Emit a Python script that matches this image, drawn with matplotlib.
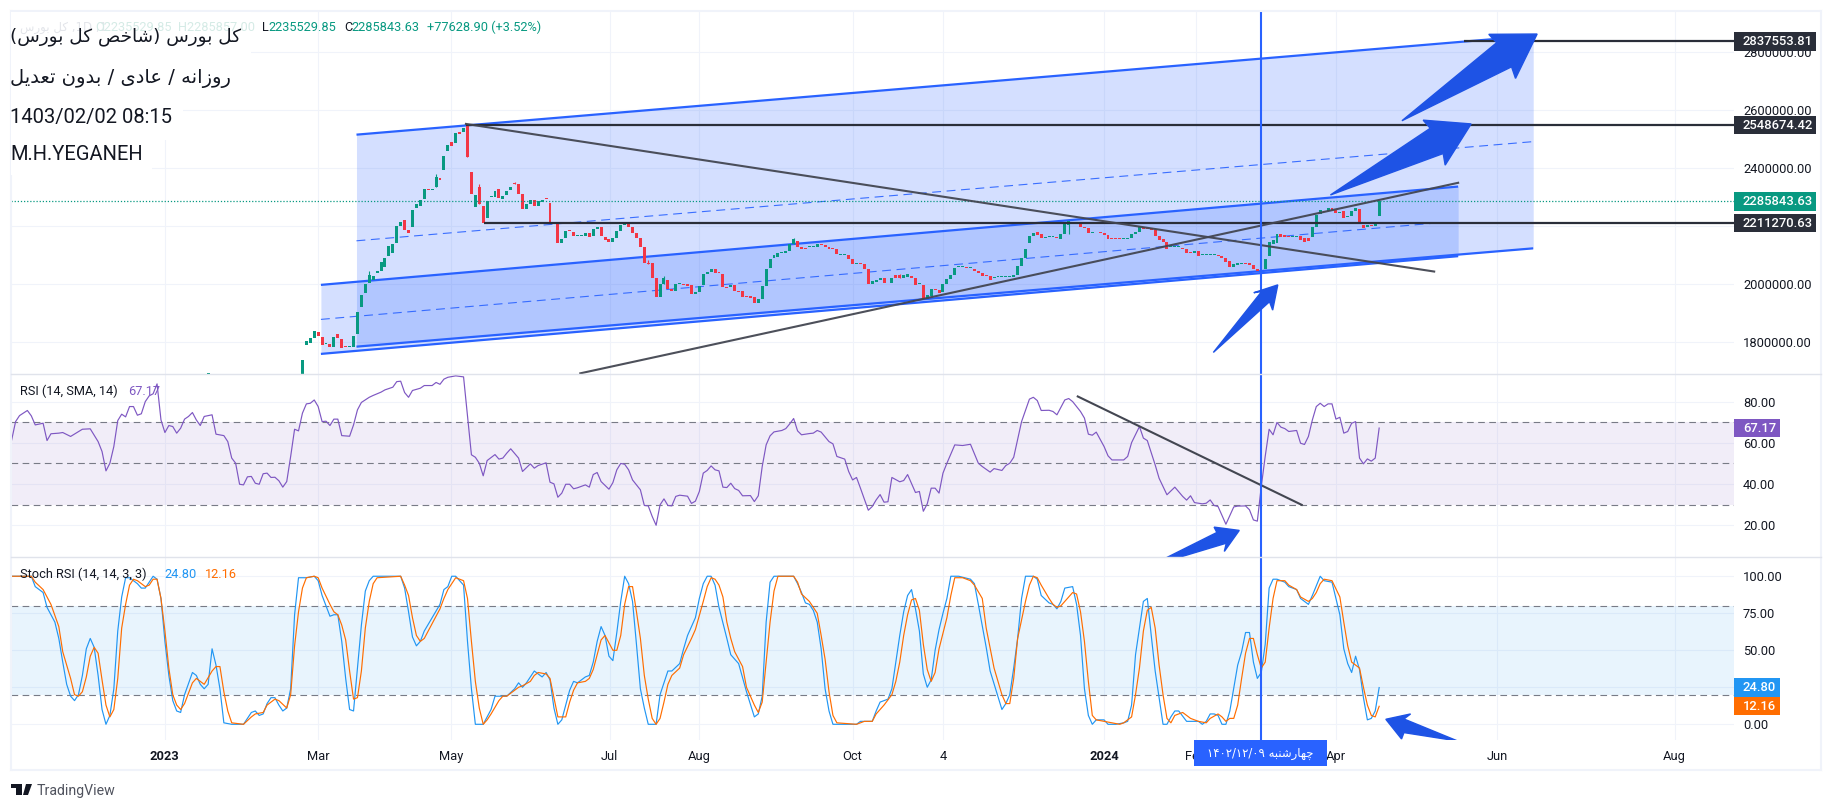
import re
import matplotlib
matplotlib.use('Agg')
import matplotlib.pyplot as plt
import matplotlib.transforms as mtrans
from matplotlib.lines import Line2D
from matplotlib.patches import Rectangle, Polygon
import numpy as np

plt.rcParams['font.family'] = ['Roboto', 'DejaVu Sans']

# daily candles, thousands of index points, bar 0 = first candle of the rally
opens_k = [1791,1797,1814,1836,1817,1794,1794,1785,1828,1810,1785,1783,1785,1829,1923,1969,2003,2015,2038,2047,
 2061,2099,2109,2141,2202,2222,2187,2199,2264,2270,2294,2330,2325,2337,2368,2394,2461,2489,2488,2526,
 2526,2549,2386,2265,2334,2270,2230,2300,2302,2330,2294,2308,2325,2350,2346,2311,2261,2277,2289,2271,
 2285,2295,2281,2216,2212,2144,2158,2188,2181,2167,2168,2167,2176,2167,2192,2196,2162,2157,2145,2158,
 2185,2205,2207,2196,2176,2159,2130,2075,2072,2021,1957,2001,2015,1983,1978,2001,2001,2001,1998,1968,
 1975,1997,2036,2044,2052,2044,2036,1990,1990,1999,1978,1976,1957,1961,1957,1937,1949,1994,2055,2090,
 2095,2107,2107,2116,2139,2151,2130,2125,2128,2128,2128,2138,2136,2130,2125,2121,2102,2102,2100,2086,
 2069,2072,2069,2053,2001,2007,2015,2021,2003,2003,2032,2031,2023,2024,2030,2023,2002,1997,1948,1961,
 1985,1980,1972,2001,2018,2032,2060,2059,2059,2055,2054,2046,2038,2030,2029,2023,2024,2024,2024,2026,
 2024,2033,2063,2090,2144,2167,2179,2172,2161,2163,2163,2164,2157,2174,2205,2216,2213,2208,2196,2193,
 2178,2179,2180,2176,2170,2157,2156,2156,2156,2156,2159,2172,2182,2199,2193,2193,2187,2167,2157,2147,
 2128,2128,2128,2124,2121,2109,2109,2114,2100,2100,2100,2101,2099,2098,2090,2080,2061,2068,2070,2072,
 2072,2065,2054,2048,2052,2099,2139,2141,2172,2169,2167,2163,2164,2167,2158,2158,2162,2199,2241,2254,
 2253,2262,2256,2247,2254,2233,2235,2254,2258,2203,2199,2204,2201,2235.53]
closes_k = [1806,1814,1838,1823,1791,1799,1785,1817,1816,1782,1784,1785,1822,1906,1963,2001,2032,2029,2046,2078,
 2090,2132,2138,2202,2216,2187,2176,2256,2277,2291,2330,2325,2330,2371,2360,2442,2479,2478,2520,2517,
 2538,2440,2311,2308,2277,2212,2286,2302,2320,2296,2304,2323,2334,2346,2311,2258,2276,2289,2271,2287,
 2292,2293,2216,2208,2144,2156,2185,2185,2167,2169,2170,2176,2162,2191,2196,2167,2153,2145,2158,2185,
 2205,2207,2196,2176,2159,2130,2072,2071,2021,1957,2001,2021,1983,1978,2001,2003,1998,1995,1968,1975,
 1994,2036,2044,2052,2038,2038,1990,1986,1999,1978,1974,1957,1955,1952,1937,1949,1994,2053,2086,2101,
 2108,2110,2116,2139,2155,2130,2123,2123,2129,2129,2139,2136,2130,2121,2121,2103,2103,2103,2086,2069,
 2071,2069,2053,2001,2011,2015,2021,2003,2006,2022,2023,2023,2033,2034,2023,1998,2003,1948,1963,1984,
 1980,1969,2001,2018,2032,2057,2061,2060,2056,2056,2045,2038,2029,2029,2016,2024,2025,2025,2025,2027,
 2033,2063,2090,2121,2167,2178,2170,2161,2162,2164,2164,2161,2172,2213,2217,2213,2208,2199,2193,2178,
 2179,2182,2176,2170,2157,2155,2155,2155,2157,2159,2172,2182,2199,2192,2190,2187,2168,2153,2147,2121,
 2129,2129,2129,2121,2109,2108,2114,2099,2101,2101,2101,2102,2098,2090,2078,2061,2070,2075,2071,2070,
 2067,2052,2047,2049,2086,2147,2153,2172,2164,2163,2162,2164,2165,2153,2147,2149,2196,2239,2255,2250,
 2262,2256,2245,2250,2230,2234,2254,2262,2210,2194,2204,2200,2210,2285.84]
early_bars = [-25, -1]
early_opens_k = [1680, 1680]
early_closes_k = [1694, 1739]
wick_bars = [16, 33, 41, 44, 53, 87, 91, 124, 151, 194]
wick_highs_k = [2046, 2380, 2553, 2347, 2354, 2084, 2029, 2158, 2035, 2220]
wick_lows_k = [2015, 2337, 2440, 2277, 2346, 2071, 2001, 2139, 2023, 2174]

levels = [2837553.81, 2548674.42, 2211270.63]
level_starts = [294.7, 40.6, 45.2]
last_price = 2285843.63

rsi_bars = [-75,-74,-73,-71,-70,-69,-67,-66,-65,-63,-62,-60,-57,-55,-53,-52,-51,-50,-49,-48,-47,-46,-45,-44,-43,-42,-41,-40,-39,-38,
 -37,-36,-35,-34,-33,-32,-31,-30,-29,-28,-27,-26,-24,-23,-21,-20,-19,-18,-17,-16,-15,-14,-13,-12,-11,-10,-9,-8,-7,-6,
 -5,-4,-3,-2,-1,0,1,2,3,4,5,6,7,8,9,11,12,13,14,16,17,19,20,22,23,24,25,26,27,29,30,32,33,34,35,36,38,40,
 42,43,44,45,46,48,49,50,51,52,54,55,57,58,59,61,62,63,64,65,66,67,68,69,71,72,73,74,75,77,78,79,80,
 81,82,83,85,86,87,88,89,90,91,92,93,94,95,97,98,99,100,101,102,103,104,105,106,107,108,109,110,111,113,114,115,116,117,118,119,
 121,122,123,124,125,126,128,129,130,131,133,134,135,137,138,139,140,141,143,144,145,146,147,148,149,151,152,153,155,156,157,158,159,160,161,162,163,
 165,167,169,171,172,174,175,177,178,179,180,182,184,185,186,187,189,190,191,193,194,195,197,198,199,200,201,203,204,205,208,209,210,212,213,214,216,217,
 219,221,223,224,225,226,228,229,230,231,232,234,236,237,
 239,240,241,242,243,244,245,246,247,248,249,250,252,253,254,255,256,257,258,259,260,261,262,263,264,265,266,267,268,269,270,271,272,273]
rsi_values = [61.4,70.3,73.2,75.7,73.1,68.7,69.5,61.1,64.4,64.7,65.0,63.1,66.6,66.8,60.6,55.8,46.4,50.1,58.2,70.8,73.9,72.6,77.6,77.6,73.4,74.1,80,82.8,83.8,88.6,
 71.1,65,68.4,67.9,64.7,67.1,71.5,72.8,74.7,71.1,68.4,72.8,73.6,64.2,63.5,60.6,52.6,50.1,39.9,39.6,43.5,43.7,40.4,39.9,45,45.3,43.2,43.3,41.6,38.5,
 41.2,53.4,66.6,65.8,74.4,78.9,79.2,80.8,77.6,70.3,70.5,68.4,71.5,71.5,63.5,63.2,68.7,76,79.6,82.1,83,84.6,85.7,87,89.7,89.9,84.4,82.1,85.4,86.5,87.8,87.8,89.3,88.4,90.9,91.8,92.5,92,
 54.2,53,50.1,44,51.4,54.3,52.1,52.6,55,57.1,52.6,46.1,49.8,47.7,49,50.3,40.9,40.1,33.6,35.6,39.9,39.9,37.7,38.2,39.6,38.5,44.6,45.6,41.2,37.5,40.7,46.9,50,
 49.6,46.9,42,37.2,29.6,29.4,24.3,20,29.9,32.8,29.6,29.4,34,34.6,34.1,30.6,31.7,36.4,45.3,46.6,48.8,46.9,46.4,38.5,38.3,40.4,37.8,36.9,34.3,34.4,31.5,34.3,48.5,59,63.4,65.3,
 66,66.9,69.2,71.8,65.8,63.9,64.5,64.7,66,65.2,60.6,59.5,53.4,52.1,46.1,42,43.2,38,27.3,29.1,32.3,34.9,31.2,31.4,43.2,41.1,41.7,44.6,35.9,36.4,26.8,30.4,38,38,35.6,45.3,50.1,
 59,58.7,59.3,50.1,48.5,45.8,47.5,46.6,49,50.1,53,70.3,81.2,82.1,80.5,75.7,75.8,75.2,73.6,80.8,81.5,80,75.2,72,64.2,63.7,65.2,58.2,53.7,51.7,51.7,53.4,60.1,67.9,62.3,61.1,49.3,42.8,
 34.8,38.5,34,32.2,34.3,31,30.4,30.7,32.3,29.6,29.1,20.5,28.9,29.3,
 29.4,27.5,22.6,22,38.8,53.4,66.6,63.9,69.9,67.6,66.9,65.5,66,59.8,59.2,63.1,71.1,77.6,79.2,77.6,78.9,78.9,71.5,72.4,64.7,65.5,69.5,70.3,52.6,49.8,52.2,51.1,52.6,67.17]

stoch_k_bars = [-75,-70,-69,-67,-66,-64,-63,-62,-61,-60,-59,-58,-57,-56,-55,-54,-53,-52,-51,-50,-49,-48,-47,-46,-45,-43,-42,-41,-40,-39,-38,-37,-36,-35,-34,-33,-32,-31,-29,-28,-27,-26,-25,-24,-23,-22,-21,-19,-16,-15,-14,-13,-12,-11,-10,-9,-8,-7,-6,-5,-4,-3,-2,0,2,3,4,6,7,8,9,10,11,12,13,14,15,16,17,24,25,26,27,28,29,30,32,34,35,36,37,38,39,40,41,42,43,45,47,48,50,51,53,54,55,56,58,60,61,62,63,64,65,67,68,69,71,72,73,74,75,76,77,78,79,80,
 81,82,83,84,85,86,87,89,90,92,93,95,96,97,99,100,101,102,103,104,105,107,108,110,112,114,115,116,117,118,119,124,125,126,127,128,129,130,131,132,133,134,140,141,144,145,146,148,149,150,151,152,153,154,155,156,157,158,159,160,161,162,163,164,166,169,170,171,173,174,177,178,179,180,181,182,183,185,186,187,189,190,191,192,193,195,196,197,198,199,200,201,203,204,206,208,209,210,211,213,214,215,216,218,219,220,221,222,224,226,227,228,229,230,231,232,233,234,235,
 237,238,239,240,241,242,243,244,245,246,247,249,250,252,253,255,256,258,259,261,262,263,264,265,266,267,268,269,270,271,272,273]
stoch_k_values = [100,100,93,89,79,69,58,42,27,19,16,20,33,51,58,52,33,10,0,6,24,63,86,99,99,95,92,92,96,100,98,85,56,33,16,9,8,20,35,33,27,24,27,51,40,24,1,0,0,4,8,9,6,7,14,18,18,13,9,11,24,74,99,99,100,97,87,73,74,74,56,31,10,9,38,67,90,97,100,100,92,76,59,53,56,63,72,81,91,93,100,100,97,94,56,24,0,0,10,19,19,19,24,28,25,28,36,32,35,30,11,0,3,23,29,28,32,33,42,56,66,60,46,43,62,83,
 100,95,83,54,24,11,0,0,20,36,36,41,51,60,72,85,95,100,100,94,79,58,47,41,22,5,7,19,69,96,100,100,95,89,82,81,77,69,51,24,9,0,0,2,2,9,15,17,24,42,60,76,87,91,78,63,34,25,30,50,64,75,85,100,100,98,95,81,52,36,10,14,20,38,58,85,100,100,98,87,82,81,78,83,92,93,81,60,24,6,0,3,3,0,0,1,2,13,47,83,85,60,36,0,0,5,9,9,2,2,2,0,2,7,7,6,0,0,9,
 40,49,62,62,42,31,35,54,92,98,98,96,93,91,85,81,87,100,97,96,85,74,51,41,35,46,37,18,3,4,9,24.8]

stoch_d_bars = [-75,-70,-69,-67,-65,-63,-62,-60,-59,-58,-57,-56,-55,-54,-53,-52,-51,-50,-49,-48,-47,-46,-45,-44,-43,-42,-41,-40,-39,-38,-37,-36,-35,-34,-33,-32,-31,-30,-29,-28,-27,-26,-24,-23,-22,-21,-20,-19,-16,-14,-13,-11,-10,-8,-7,-5,-4,-3,-2,-1,0,2,3,4,6,7,8,9,10,11,12,13,14,15,16,17,18,24,25,26,27,28,29,30,32,34,35,36,37,38,40,41,42,43,44,45,46,47,49,50,51,53,54,55,57,58,59,61,62,63,64,66,67,68,69,71,72,73,74,75,76,77,78,79,80,
 81,82,83,84,85,86,87,88,89,90,91,92,93,95,96,98,99,101,102,103,104,105,106,107,108,109,111,112,114,115,116,117,118,119,120,124,125,126,128,129,130,131,132,133,134,135,140,142,144,145,147,149,150,151,152,153,154,155,156,157,158,159,160,161,163,164,165,167,169,170,172,173,175,177,178,179,180,181,183,184,185,186,187,189,190,191,192,195,196,197,198,199,200,201,203,205,207,208,210,211,212,213,214,215,216,217,218,219,220,221,223,225,227,229,230,232,233,234,235,236,
 237,238,239,240,241,242,243,244,245,246,247,249,250,252,253,255,256,257,258,259,261,263,264,265,266,267,268,269,270,271,272,273]
stoch_d_values = [100,100,96,91,81,66,49,31,20,19,22,32,46,52,48,30,13,5,10,31,65,81,94,98,97,95,93,94,98,98,85,63,38,20,13,10,14,21,28,31,29,27,36,39,39,22,9,1,0,5,7,8,13,17,16,11,20,53,76,92,99,100,99,92,81,76,74,67,57,36,17,18,36,65,83,95,99,100,94,87,72,60,56,58,68,78,85,91,95,99,97,85,56,29,11,0,3,7,16,19,19,23,25,26,29,33,35,34,31,18,5,5,15,23,28,29,31,37,47,57,60,55,50,50,60,
 81,93,93,76,58,33,17,4,0,4,15,27,33,38,47,58,64,83,93,99,98,94,86,69,58,49,39,25,13,8,15,42,69,90,100,100,96,88,83,79,75,60,44,22,6,1,0,2,2,7,13,20,29,42,60,74,84,85,77,54,37,29,35,51,72,87,99,99,97,94,85,65,38,20,14,14,31,58,83,94,100,99,94,85,81,79,80,89,88,76,56,29,6,3,2,1,0,1,5,20,38,63,77,79,65,40,20,4,1,6,8,4,2,1,4,7,5,2,4,4,
 13,31,48,58,58,47,38,42,65,85,97,97,94,91,86,83,85,89,95,98,97,86,69,53,42,40,38,25,13,6,5,12.16]

tick_bars = [-36.1, 3, 36.9, 77.2, 100, 139, 162.1, 203.1, 226.3, 262.1, 303.1, 348.2]
tick_labels = ['2023', 'Mar', 'May', 'Jul', 'Aug', 'Oct', '4', '2024', 'Feb', 'Apr', 'Jun', 'Aug']
price_ticks = [1800000, 2000000, 2200000, 2400000, 2600000, 2800000]
rsi_ticks = [20, 40, 60, 80]
stoch_ticks = [0, 25, 50, 75, 100]

GREEN = '#089981'
RED = '#f23645'
BLUE = '#2962ff'
ARROW = '#1e53e5'
DARK = '#2a2e39'
TREND = '#434651'
GRID = '#f0f3fa'
SEP = '#e0e3eb'
PURPLE = '#7e57c2'
TXT = '#131722'
W, H = 1833, 810
PLOT_L, PLOT_R = 11.5, 1734

# persian text has to be shaped by hand, matplotlib does no joining or bidi
FORMS = {'ا': 'ﺍﺎ', 'ب': 'ﺏﺐﺑﺒ', 'ت': 'ﺕﺖﺗﺘ', 'ج': 'ﺝﺞﺟﺠ', 'چ': 'ﭺﭻﭼﭽ',
         'خ': 'ﺥﺦﺧﺨ', 'د': 'ﺩﺪ', 'ر': 'ﺭﺮ', 'ز': 'ﺯﺰ', 'س': 'ﺱﺲﺳﺴ',
         'ش': 'ﺵﺶﺷﺸ', 'ص': 'ﺹﺺﺻﺼ', 'ع': 'ﻉﻊﻋﻌ', 'ل': 'ﻝﻞﻟﻠ', 'ن': 'ﻥﻦﻧﻨ',
         'ه': 'ﻩﻪﻫﻬ', 'و': 'ﻭﻮ', 'ی': 'ﯼﯽﯾﯿ', 'ک': 'ﮎﮏﮐﮑ'}


def fa(s):
    out = ''
    for i, c in enumerate(s):
        if c not in FORMS:
            out += c
            continue
        f = FORMS[c]
        prev_j = i > 0 and s[i - 1] in FORMS and len(FORMS[s[i - 1]]) == 4
        next_j = i + 1 < len(s) and s[i + 1] in FORMS and len(f) == 4
        if prev_j and next_j:
            out += f[3]
        elif prev_j:
            out += f[1]
        elif next_j:
            out += f[2]
        else:
            out += f[0]
    out = out[::-1].translate(str.maketrans('()', ')('))
    return re.sub('[۰-۹/]{2,}', lambda m: m.group(0)[::-1], out)


def pane(top, bottom):
    return fig.add_axes([PLOT_L / W, 1 - bottom / H, (PLOT_R - PLOT_L) / W, (bottom - top) / H])


def fx(px):
    return px / W


def fy(py):
    return 1 - py / H


def price_label(ax, value, text, color, height, width=82.5):
    tr = mtrans.blended_transform_factory(ax.transAxes, ax.transData)
    fr = 1 / (PLOT_R - PLOT_L)
    ax.add_patch(Rectangle((1, value - height / 2), width * fr, height, transform=tr, color=color,
                           lw=0, clip_on=False, zorder=10))
    ax.text(1 + 9 * fr, value, text, transform=tr, color='white', fontsize=9.4, fontweight='medium',
            va='center', ha='left', clip_on=False, zorder=11)


fig = plt.figure(figsize=(W / 100, H / 100), dpi=100, facecolor='white')
ax1 = pane(11, 374)
ax2 = pane(374, 557)
ax3 = pane(557, 740)

for ax in (ax1, ax2, ax3):
    for s in ax.spines.values():
        s.set_visible(False)
    ax.set_xlim(-75.04, 363.3)
    ax.set_xticks(tick_bars)
    ax.yaxis.tick_right()
    ax.tick_params(axis='y', length=0, pad=6.5, labelsize=9.3, labelcolor=TXT)
    ax.tick_params(axis='x', length=0, labelbottom=False)
    ax.grid(color=GRID, lw=0.8)
    ax.set_axisbelow(True)
    ax.axvline(242.9, color=BLUE, lw=1.5, zorder=6)

# main pane
ax1.set_ylim(1690700, 2942400)
ax1.set_yticks(price_ticks)
# 2200000 sits behind the 2211270.63 label
ax1.set_yticklabels(['' if v == 2200000 else '%.2f' % v for v in price_ticks])

outer_x = [12.75, 312.2]
inner_x = [3.7, 293.1]
ax1.fill_between(outer_x, [1785000, 2124000], [2516000, 2857000], color=BLUE, alpha=0.2, lw=0, zorder=1)
ax1.fill_between(inner_x, [1760000, 2097000], [1998000, 2337000], color=BLUE, alpha=0.2, lw=0, zorder=1)
for xs, ys in ((outer_x, [2516000, 2857000]), (outer_x, [1785000, 2124000]),
               (inner_x, [1998000, 2337000]), (inner_x, [1760000, 2097000])):
    ax1.plot(xs, ys, color=BLUE, lw=1.6, zorder=2, solid_capstyle='butt')
ax1.plot(outer_x, [2150000, 2492000], color=BLUE, lw=0.8, dashes=(8, 5), alpha=0.9, zorder=2)
ax1.plot([3.7, 288], [1879000, 2212000], color=BLUE, lw=0.8, dashes=(8, 5), alpha=0.9, zorder=2)

o = np.array(opens_k, dtype=float) * 1000
c = np.array(closes_k, dtype=float) * 1000
bars = np.arange(len(o))
colors = [GREEN if b >= a else RED for a, b in zip(o, c)]
ax1.vlines(wick_bars, np.array(wick_lows_k) * 1000, np.array(wick_highs_k) * 1000,
           colors=[colors[i] for i in wick_bars], lw=0.8, zorder=3)
ax1.bar(bars, np.maximum(np.abs(c - o), 3000), bottom=np.minimum(o, c), width=0.75, color=colors, lw=0, zorder=3)
eo = np.array(early_opens_k) * 1000
ec = np.array(early_closes_k) * 1000
ax1.bar(early_bars, ec - eo, bottom=eo, width=0.75, color=GREEN, lw=0, zorder=3)

ax1.axhline(last_price, color=GREEN, lw=0.9, ls=(0, (1, 1.5)), zorder=4)
for lv, st in zip(levels, level_starts):
    ax1.plot([st, 363.3], [lv, lv], color=DARK, lw=1.6, zorder=5, solid_capstyle='butt')
ax1.plot([40.6, 287], [2553000, 2044000], color=TREND, lw=1.5, alpha=0.95, zorder=5)
ax1.plot([69.7, 293.1], [1693000, 2350000], color=TREND, lw=1.5, alpha=0.95, zorder=5)

ax1.add_patch(Polygon([(278.8, 2564000), (302.9, 2833000), (300.9, 2862000), (313.2, 2863000),
                       (307.7, 2710000), (306.7, 2750000)], color=ARROW, lw=1, zorder=7))
ax1.add_patch(Polygon([(260.6, 2308000), (286, 2538000), (284.2, 2566000), (296.4, 2553000),
                       (289.8, 2411000), (289.3, 2451000)], color=ARROW, lw=1, zorder=7))
ax1.add_patch(Polygon([(230.8, 1765000), (243.1, 1975000), (241.1, 1971000), (247.2, 1998000),
                       (245.9, 1911000), (245.1, 1940000)], color=ARROW, lw=1, zorder=7))

for lv, txt in zip(levels, ['2837553.81', '2548674.42', '2211270.63']):
    price_label(ax1, lv, txt, DARK, 63000)
price_label(ax1, last_price, '2285843.63', GREEN, 63000)

# RSI pane
ax2.set_ylim(4.6, 93.4)
ax2.set_yticks(rsi_ticks)
ax2.set_yticklabels(['%.2f' % v for v in rsi_ticks])
ax2.axhspan(30, 70, color=PURPLE, alpha=0.1, lw=0, zorder=1)
for v in (30, 50, 70):
    ax2.axhline(v, color='#787b86', lw=0.8, dashes=(6, 4), zorder=2)
ax2.plot(rsi_bars, rsi_values, color=PURPLE, lw=0.85, zorder=3)
ax2.plot([196.3, 253.3], [82.5, 29.9], color=TREND, lw=1.5, zorder=5)
ax2.add_patch(Polygon([(214.4, 0), (231.7, 16.5), (231, 19.1), (237.4, 17.5), (233.6, 7.3), (234.1, 11.3)],
                      color=ARROW, lw=1, zorder=7))
price_label(ax2, 67.17, '67.17', PURPLE, 8.9, width=46.5)

# Stoch RSI pane
ax3.set_ylim(-10.6, 113)
ax3.set_yticks(stoch_ticks)
# 25 sits behind the 24.80 label
ax3.set_yticklabels(['' if v == 25 else '%.2f' % v for v in stoch_ticks])
ax3.axhspan(20, 80, color='#2196f3', alpha=0.1, lw=0, zorder=1)
for v in (20, 80):
    ax3.axhline(v, color='#787b86', lw=0.8, dashes=(6, 4), zorder=2)
ax3.plot(stoch_k_bars, stoch_k_values, color='#2196f3', lw=0.85, zorder=3)
ax3.plot(stoch_d_bars, stoch_d_values, color='#ff6d00', lw=0.85, zorder=4)
ax3.add_patch(Polygon([(274.7, 3.4), (281, 7), (279.3, 3.6), (293, -11.3), (279.3, -5.6), (278.7, -9.9)],
                      color=ARROW, lw=1, zorder=7))
price_label(ax3, 24.8, '24.80', '#2196f3', 12.4, width=46.5)
price_label(ax3, 12.16, '12.16', '#ff6d00', 12.4, width=46.5)

ax3.tick_params(axis='x', labelbottom=True, pad=7, labelsize=9.3, labelcolor=TXT)
ax3.set_xticklabels(tick_labels)
for t in ax3.get_xticklabels():
    if t.get_text() in ('2023', '2024'):
        t.set_fontweight('bold')

# frame
for x0, y0, x1, y1, col, lw in ((11, 11, 1821, 11, GRID, 1.5), (11, 770, 1821, 770, GRID, 1.5),
                                (11, 11, 11, 770, GRID, 1.5), (1821, 11, 1821, 770, GRID, 1.5),
                                (11, 374, 1821, 374, SEP, 1), (11, 557, 1821, 557, SEP, 1)):
    fig.add_artist(Line2D([fx(x0), fx(x1)], [fy(y0), fy(y1)], color=col, lw=lw, zorder=3))

# crosshair date label
fig.add_artist(Rectangle((fx(1194), fy(766)), (1327 - 1194) / W, 26 / H, color=BLUE, lw=0, zorder=5))
fig.text(fx(1260.5), fy(753), fa('چهارشنبه ۱۴۰۲/۱۲/۰۹'), color='white', fontsize=8.4, family='DejaVu Sans',
         ha='center', va='center', zorder=6)

# top left notes with their white boxes
for x0, y0, x1, y1 in ((11.5, 12, 251, 103), (11.5, 103, 183, 140), (11.5, 140, 152, 175)):
    fig.add_artist(Rectangle((fx(x0), fy(y1)), (x1 - x0) / W, (y1 - y0) / H, color='white', lw=0, zorder=4))

fig.text(fx(20), fy(27.7), fa('کل بورس') + ' ,1D ,1', color='#e3e5ea', fontsize=8.5, family='DejaVu Sans',
         va='center', zorder=5)
fig.text(fx(95), fy(27.7), 'O2235529.85', color='#d5ebe6', fontsize=9.2, va='center', zorder=5)
fig.text(fx(178), fy(27.7), 'H2285857.00', color='#d5ebe6', fontsize=9.2, va='center', zorder=5)
fig.text(fx(262), fy(27.7), 'L', color=TXT, fontsize=9.2, va='center', zorder=5)
fig.text(fx(268), fy(27.7), '2235529.85', color=GREEN, fontsize=9.2, va='center', zorder=5)
fig.text(fx(344), fy(27.7), 'C', color=TXT, fontsize=9.2, va='center', zorder=5)
fig.text(fx(351), fy(27.7), '2285843.63', color=GREEN, fontsize=9.2, va='center', zorder=5)
fig.text(fx(427), fy(27.7), '+77628.90 (+3.52%)', color=GREEN, fontsize=9.2, va='center', zorder=5)

fig.text(fx(10), fy(37), fa('کل بورس (شاخص کل بورس)'), color=TXT, fontsize=13.3, family='DejaVu Sans', va='center', zorder=6)
fig.text(fx(10), fy(78), fa('روزانه / عادی / بدون تعدیل'), color=TXT, fontsize=14, family='DejaVu Sans', va='center', zorder=6)
fig.text(fx(10), fy(117), '1403/02/02 08:15', color=TXT, fontsize=14.5, va='center', zorder=6)
fig.text(fx(10), fy(154), 'M.H.YEGANEH', color=TXT, fontsize=14.5, va='center', zorder=6)

# pane legends
fig.text(fx(20), fy(391.7), 'RSI (14, SMA, 14)', color=TXT, fontsize=9.2, va='center', zorder=6)
fig.text(fx(128.5), fy(391.7), '67.17', color=PURPLE, fontsize=9.2, va='center', zorder=6)
fig.text(fx(20), fy(574), 'Stoch RSI (14, 14, 3, 3)', color=TXT, fontsize=9.2, va='center', zorder=6)
fig.text(fx(164), fy(574), '24.80', color='#2196f3', fontsize=9.2, va='center', zorder=6)
fig.text(fx(205), fy(574), '12.16', color='#ff6d00', fontsize=9.2, va='center', zorder=6)

# TradingView mark
for x0, y0, x1, y1 in ((11, 784, 22, 788), (16, 784, 22, 795)):
    fig.add_artist(Rectangle((fx(x0), fy(y1)), (x1 - x0) / W, (y1 - y0) / H, color=TXT, lw=0, zorder=6))
fig.add_artist(Polygon([(fx(28), fy(795)), (fx(32), fy(784)), (fx(26), fy(784)), (fx(23), fy(795))],
                       closed=True, transform=fig.transFigure, color=TXT, lw=0, zorder=6))
fig.text(fx(37), fy(791), 'TradingView', color='#50535e', fontsize=10.2, va='center', zorder=6)

plt.savefig('out.png', dpi=100)
